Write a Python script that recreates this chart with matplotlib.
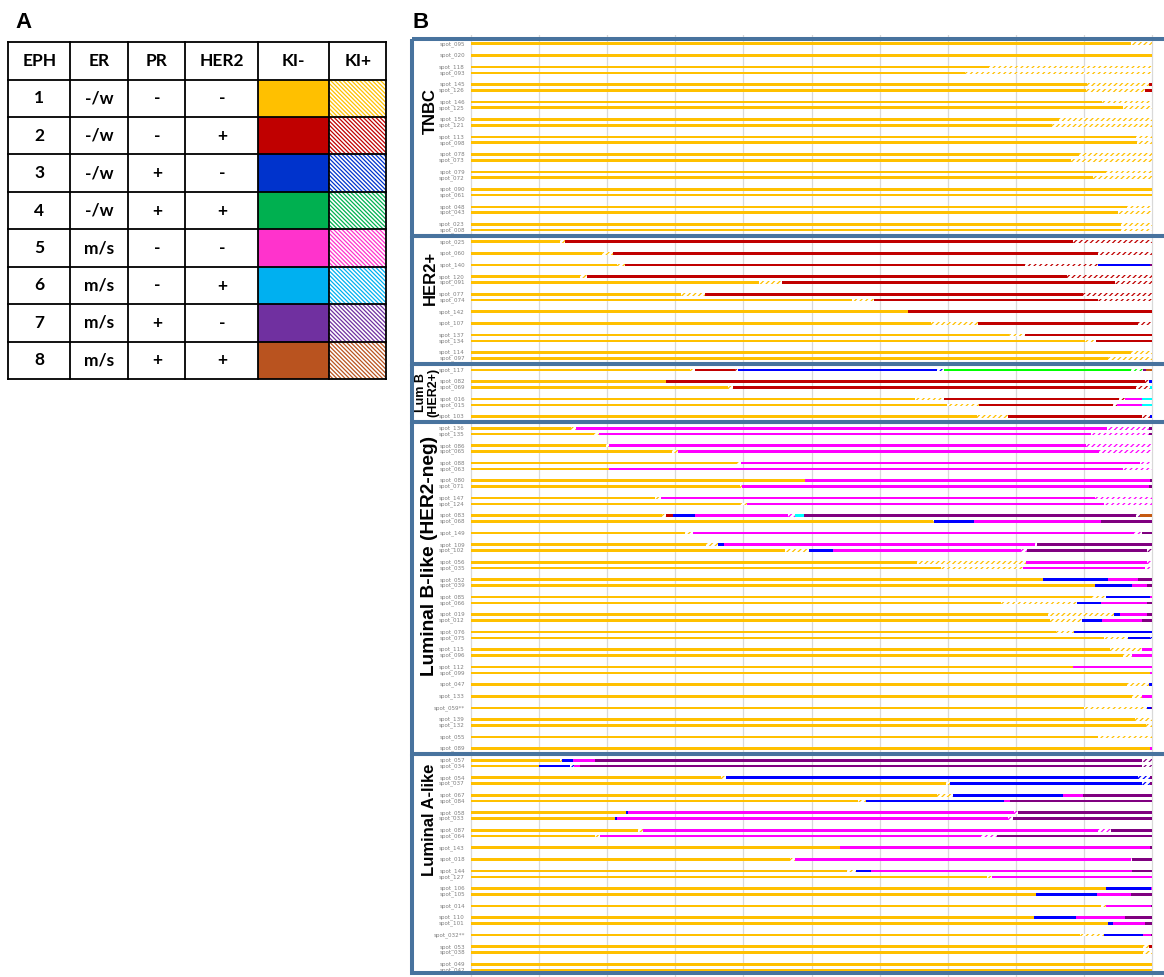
import matplotlib
matplotlib.use('Agg')
import matplotlib.pyplot as plt
from matplotlib.patches import Rectangle

# Panel A: phenotype key
table_header = ['EPH', 'ER', 'PR', 'HER2', 'KI-', 'KI+']
eph = ['1', '2', '3', '4', '5', '6', '7', '8']
er = ['-/w', '-/w', '-/w', '-/w', 'm/s', 'm/s', 'm/s', 'm/s']
pr = ['-', '-', '+', '+', '-', '-', '+', '+']
her2 = ['-', '+', '-', '+', '-', '+', '-', '+']
key_colors = ['#FFC000', '#C00000', '#0033CC', '#00B050',
              '#FF33CC', '#00B0F0', '#7030A0', '#B9531F']

# Panel B: phenotype per spot along the path (0-100 %)
# upper case = KI- (solid), lower case = KI+ (hatched), number = segment end
bar_colors = {'Y': '#FFC000', 'R': '#C00000', 'B': '#0000FF', 'G': '#00FF00',
              'M': '#FF00FF', 'C': '#00FFFF', 'P': '#800080', 'O': '#C55A11'}

tnbc_spots = ['spot_095', '', 'spot_020', '', 'spot_118', 'spot_093', '',
              'spot_145', 'spot_126', '', 'spot_146', 'spot_125', '',
              'spot_150', 'spot_121', '', 'spot_113', 'spot_098', '',
              'spot_078', 'spot_073', '', 'spot_079', 'spot_072', '',
              'spot_090', 'spot_061', '', 'spot_048', 'spot_043', '',
              'spot_023', 'spot_008']
tnbc_segs = ['Y96.9 y100', '', 'Y100', '', 'Y76.1 y100', 'Y72.6 y100', '',
             'Y90.4 y99.5 R100', 'Y90.3 y98.9 R100', '', 'Y92.7 y100', 'Y95.8 y100', '',
             'Y86.4 y100', 'Y85.3 y100', '', 'Y97.6 y100', 'Y97.8 y100', '',
             'Y89.3 y100', 'Y88.1 y100', '', 'Y93.2 y100', 'Y91.4 y100', '',
             'Y100', 'Y100', '', 'Y96.4 y100', 'Y95.0 y100', '',
             'Y95.5 y100', 'Y95.5 y100']

her2_spots = ['spot_025', '', 'spot_060', '', 'spot_140', '', 'spot_120', 'spot_091', '',
              'spot_077', 'spot_074', '', 'spot_142', '', 'spot_107', '',
              'spot_137', 'spot_134', '', 'spot_114', 'spot_097']
her2_segs = ['Y13.1 y13.8 R88.4 r100', '', 'Y19.3 y20.8 R92.1 r100', '',
             'Y21.5 y22.6 R81.3 r92.0 B99.7 P100', '',
             'Y16.0 y17.1 R87.5 r100', 'Y42.3 y45.7 R94.6 r100', '',
             'Y30.8 y34.4 R89.9 r100', 'Y56.0 y59.2 R92.1 r100', '',
             'Y64.1 R100', '', 'Y67.6 y74.4 R98.0 r100', '',
             'Y79.0 y81.3 R100', 'Y90.2 y91.8 R100', '',
             'Y96.9 y100', 'Y93.6 y100']

lumb_her2_spots = ['spot_117', '', 'spot_082', 'spot_069', '',
                   'spot_016', 'spot_015', '', 'spot_103']
lumb_her2_segs = ['Y32.2 y32.9 R38.8 r39.2 B68.5 b69.5 G96.9 g98.7 P99.1 O100', '',
                  'Y28.6 R99.0 r99.6 B100', 'Y37.8 y38.4 R97.7 r99.7 C100', '',
                  'Y65.2 y69.4 R95.1 r96.0 M98.5 C100',
                  'Y69.9 y74.6 R94.2 r94.8 M98.5 C100', '',
                  'Y74.3 y78.9 R98.6 r99.7 B100']

lumb_spots = ['spot_136', 'spot_135', '', 'spot_086', 'spot_065', '',
              'spot_088', 'spot_063', '', 'spot_080', 'spot_071', '',
              'spot_147', 'spot_124', '', 'spot_083', 'spot_068', '',
              'spot_149', '', 'spot_109', 'spot_102', '',
              'spot_056', 'spot_035', '', 'spot_052', 'spot_039', '',
              'spot_085', 'spot_066', '', 'spot_019', 'spot_012', '',
              'spot_076', 'spot_075', '', 'spot_115', 'spot_096', '',
              'spot_112', 'spot_099', '', 'spot_047', '', 'spot_133', '',
              'spot_059**', '', 'spot_139', 'spot_132', '', 'spot_055', '',
              'spot_089']
lumb_segs = ['Y14.7 y15.4 M93.4 m99.5 P100', 'Y18.0 y18.8 M91.0 m99.5 P100', '',
             'Y19.8 y20.3 M90.3 m100', 'Y29.5 y30.4 M92.2 m100', '',
             'Y39.1 y39.6 M98.2 m100', 'Y20.3 M95.8 m100', '',
             'Y49.0 M99.7 P100', 'Y39.5 y39.8 M99.6 P100', '',
             'Y27.0 y27.9 M91.6 m100', 'Y39.5 y40.6 M92.9 m100', '',
             'Y28.0 y28.7 R29.6 B32.9 M46.6 m47.6 C48.9 P97.7 p98.2 O100',
             'Y67.8 y68.0 B73.9 M92.5 P100', '',
             'Y31.4 y32.6 M97.3 m98.5 P100', '',
             'Y34.5 y36.2 B37.1 M82.8 m83.1 P100',
             'Y46.1 y49.7 B53.1 M80.8 m81.6 P99.2 p100', '',
             'Y65.5 y81.5 M99.2 m100', 'Y69.0 y81.0 M99.0 m100', '',
             'Y84.0 B93.6 M98.0 P100', 'Y91.6 B97.0 M99.2 P100', '',
             'Y91.2 y93.2 B99.7 M100', 'Y77.9 y89.0 B92.5 M99.2 P100', '',
             'Y84.7 y94.4 B95.3 M99.2 P100', 'Y85.0 y89.7 B92.6 M98.6 P100', '',
             'Y85.9 y88.6 B100', 'Y92.9 y96.5 B99.7 b100', '',
             'Y93.9 y98.6 M100', 'Y95.8 y97.0 M100', '',
             'Y88.4 M100', 'Y99.7 M100', '', 'Y96.3 y99.5 B100', '',
             'Y97.1 y98.5 M100', '', 'Y90.0 y99.3 B99.8 P100', '',
             'Y97.5 y100', 'Y99.1 y100', '', 'Y92.1 y100', '',
             'Y99.7 M100']

luma_spots = ['spot_057', 'spot_034', '', 'spot_054', 'spot_037', '',
              'spot_067', 'spot_084', '', 'spot_058', 'spot_033', '',
              'spot_087', 'spot_064', '', 'spot_143', '', 'spot_018', '',
              'spot_144', 'spot_127', '', 'spot_106', 'spot_105', '',
              'spot_014', '', 'spot_110', 'spot_101', '', 'spot_032**', '',
              'spot_053', 'spot_038', '', 'spot_049', 'spot_042']
luma_segs = ['Y13.0 y13.3 B15.0 M18.2 P98.5 p100', 'Y10.0 B14.5 b15.1 M16.0 P98.5 p100', '',
             'Y36.7 y37.5 B97.9 b99.7 P100', 'Y69.7 y70.4 B98.5 b99.7 P100', '',
             'Y68.5 y70.8 B86.9 M89.8 P100', 'Y56.8 y58.0 B78.2 M79.1 P100', '',
             'Y22.8 B23.1 M79.8 m80.3 P100', 'Y21.1 B21.5 M78.8 m79.6 P100', '',
             'Y24.5 y25.2 M92.1 m94.0 P100', 'Y18.2 y18.9 M74.9 m77.3 P100', '',
             'Y54.2 M99.7 P100', '', 'Y46.8 y47.6 M96.9 m97.1 P100', '',
             'Y55.2 y56.6 B58.7 M97.0 P100', 'Y75.7 y76.5 M100', '',
             'Y93.3 B99.8 M100', 'Y83.0 B91.9 M96.9 P100', '',
             'Y92.5 y93.2 M99.8 P100', '',
             'Y82.7 B88.8 M96.1 P100', 'Y93.6 B94.2 M98.9 P100', '',
             'Y89.4 y93.0 B98.7 M99.8 P100', '',
             'Y98.7 y99.5 R100', 'Y98.7 y100', '', 'Y100', 'Y100']

group_names = ['TNBC', 'HER2+', 'Lum B\n(HER2+)', 'Luminal B-like (HER2-neg)', 'Luminal A-like']
group_spots = [tnbc_spots, her2_spots, lumb_her2_spots, lumb_spots, luma_spots]
group_segs = [tnbc_segs, her2_segs, lumb_her2_segs, lumb_segs, luma_segs]

plt.rcParams['hatch.linewidth'] = 0.9

W, H = 1164, 977
fig = plt.figure(figsize=(W / 100, H / 100), dpi=100)

# ---- panel A (pixel coordinates) ----
ax_a = fig.add_axes([0, 0, 1, 1])
ax_a.set_xlim(0, W)
ax_a.set_ylim(H, 0)
ax_a.axis('off')

col_x = [8.3, 70.3, 128.3, 185.3, 258.3, 329.3, 386.3]
row_y = [41.7, 79.7, 117, 154.3, 192, 229.3, 266.7, 304.3, 341.7, 379]
tfont = dict(family=['Lato', 'DejaVu Sans'], fontweight='bold', fontsize=12.5,
             ha='center', va='center', color='black')

for i, c in enumerate(key_colors):
    y0, y1 = row_y[i + 1], row_y[i + 2]
    ax_a.add_patch(Rectangle((col_x[4], y0), col_x[5] - col_x[4], y1 - y0,
                             facecolor=c, edgecolor='none'))
    ax_a.add_patch(Rectangle((col_x[5], y0), col_x[6] - col_x[5], y1 - y0,
                             facecolor='white', edgecolor=c, linewidth=0,
                             hatch='\\' * 8))

for x in col_x:
    ax_a.plot([x, x], [row_y[0], row_y[-1]], color='black', lw=1.3)
for y in row_y:
    ax_a.plot([col_x[0], col_x[-1]], [y, y], color='black', lw=1.3)

ycen = [(row_y[k] + row_y[k + 1]) / 2 for k in range(len(row_y) - 1)]
xcen = [(col_x[k] + col_x[k + 1]) / 2 for k in range(len(col_x) - 1)]
for j, h in enumerate(table_header):
    ax_a.text(xcen[j], ycen[0], h, **tfont)
for i in range(len(eph)):
    for j, v in enumerate([eph[i], er[i], pr[i], her2[i]]):
        ax_a.text(xcen[j], ycen[i + 1], v, **tfont)

fig.text(24 / W, 1 - 23 / H, 'A', family='Liberation Sans', fontweight='bold',
         fontsize=16, ha='center', va='center')
fig.text(421 / W, 1 - 22 / H, 'B', family='Liberation Sans', fontweight='bold',
         fontsize=16, ha='center', va='center')

# ---- panel B ----
L, R, T, B = 400, 1164, 35, 977
ax = fig.add_axes([L / W, 1 - B / H, (R - L) / W, (B - T) / H])
px_per_pct = 6.81
row_px, row0_px = 5.826, 43.7
ax.set_xlim(-(471 - L) / px_per_pct, 100 + (R - 1152) / px_per_pct)
ax.set_ylim((B - row0_px) / row_px, (T - row0_px) / row_px)
ax.axis('off')

for g in range(0, 101, 10):
    ax.axvline(g, color='#d9d9d9', lw=0.9, zorder=0)

bar_h = 0.45
row = 0
edges = []
for gi, (names, segs) in enumerate(zip(group_spots, group_segs)):
    edges.append(row - 0.8 if gi == 0 else row - 1)
    for name, seg in zip(names, segs):
        if name:
            ax.text(-0.9, row, name, ha='right', va='center', fontsize=4.1,
                    color='#808080', family='DejaVu Sans')
            start = 0.0
            for part in seg.split():
                code, end = part[0], float(part[1:])
                col = bar_colors[code.upper()]
                if code.isupper():
                    ax.barh(row, end - start, left=start, height=bar_h,
                            color=col, linewidth=0, zorder=2)
                else:
                    ax.barh(row, end - start, left=start, height=bar_h,
                            facecolor='white', edgecolor=col, linewidth=0,
                            hatch='/' * 6, zorder=2)
                start = end
        row += 1
    row += 1
edges.append(row - 2 + 0.5)

box_left = (412 - 471) / px_per_pct
for k in range(len(group_names)):
    ax.add_patch(Rectangle((box_left, edges[k]), 120, edges[k + 1] - edges[k],
                           facecolor='none', edgecolor='#48739E', lw=2.9, zorder=3))

# group labels: row centre and x pixel of the rotated text
label_rows = [11.55, 40.2, 59.8, 87.9, 133.2]
label_x = [430, 430, 427, 430, 430]
label_sizes = [12, 12, 9, 13.8, 12]
for name, r, xp, s in zip(group_names, label_rows, label_x, label_sizes):
    ax.text((xp - 471) / px_per_pct, r, name, rotation=90, ha='center', va='center',
            fontsize=s, fontweight='bold', family='Liberation Sans',
            multialignment='center', linespacing=1.0, zorder=4)

fig.savefig('out.png', dpi=100)
